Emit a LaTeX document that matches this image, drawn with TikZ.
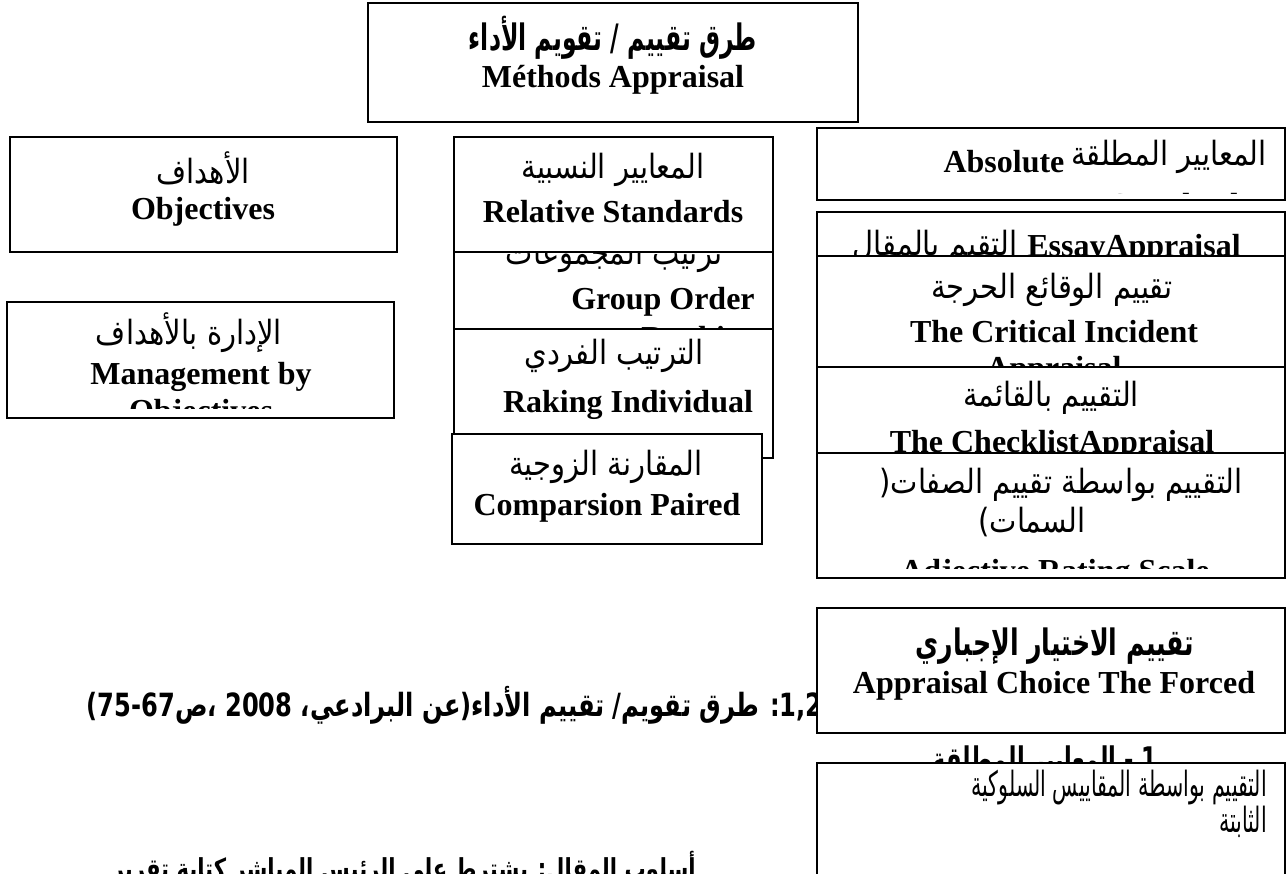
\documentclass[tikz,border=0pt]{standalone}
\usepackage{fontspec}
\setmainfont{Liberation Serif}
\newfontfamily\arf[Script=Arabic]{DejaVu Sans}
\TeXXeTstate=1
\newcommand\AR[1]{{\arf\beginR #1\endR}}
\newcommand\ARs[1]{\scalebox{1}[1.15]{\AR{#1}}}
\newcommand\LL[1]{\beginL #1\endL}
\begin{document}
\begin{tikzpicture}[x=1pt,y=-1pt,
  box/.style={draw=black, line width=1.5pt, fill=white},
  en/.style={inner sep=0pt, font=\fontsize{32}{36}\selectfont\bfseries},
  art/.style={inner sep=0pt, font=\fontsize{29}{33}\selectfont},
  artb/.style={inner sep=0pt, font=\fontsize{28}{32}\selectfont\bfseries}]
\useasboundingbox[fill=white] (0,0) rectangle (1287,873);
\clip (0,0) rectangle (1287,873);

% title box
\draw[box] (368,3) rectangle (858,122);
\node[artb] (tA) at (613,38) {\scalebox{0.84}[1.3]{\AR{طرق تقييم / تقويم الأداء}}};
\node[en] (tE) at (613,80) {Méthods Appraisal};

% objectives
\draw[box] (10,137) rectangle (397,252);
\node[art] (oA) at (203,168) {\ARs{الأهداف}};
\node[en] (oE) at (203,212) {Objectives};

% management by objectives
\draw[box] (7,302) rectangle (394,418);
\begin{scope}
\clip (8,303) rectangle (393,408);
\node[art] (mA) at (189,333) {\ARs{الإدارة بالأهداف}};
\node[en] (mE) at (201,377) {Management by};
\node[en] (mE2) at (201,414) {Objectives};
\end{scope}

% group order ranking (under relative standards)
\draw[box] (454,236) rectangle (773,345);
\begin{scope}
\clip (455,237) rectangle (772,344);
\node[art] (gA) at (614,256) {\ARs{ترتيب المجموعات}};
\node[en] (gE) at (663,302) {Group Order};
\node[en] (gE2) at (700,341) {Ranking};
\end{scope}

% relative standards
\draw[box] (454,137) rectangle (773,252);
\node[art] (rA) at (613,170) {\ARs{المعايير النسبية}};
\node[en] (rE) at (613,212) {Relative Standards};

% raking individual
\draw[box] (454,329) rectangle (773,458);
\node[art] (iA) at (614,356) {\ARs{الترتيب الفردي}};
\node[en] (iE) at (628,405) {Raking Individual};

% paired comparison
\draw[box] (452,434) rectangle (762,544);
\node[art] (pA) at (606,467) {\ARs{المقارنة الزوجية}};
\node[en] (pE) at (607,508) {Comparsion Paired};

% absolute standards
\draw[box] (817,128) rectangle (1285,200);
\begin{scope}
\clip (818,129) rectangle (1284,193);
\node[art] (aA) at (1169,157) {\ARs{المعايير المطلقة}};
\node[en] (aE) at (1004,162) {Absolute};
\node[en] (aE2) at (1181,205) {Standards};
\end{scope}

% essay
\draw[box] (817,212) rectangle (1285,290);
\node[art] (eA) at (935,247) {\ARs{التقيم بالمقال}};
\node[en] (eE) at (1134,249) {EssayAppraisal};

% critical incident
\draw[box] (817,256) rectangle (1285,367);
\begin{scope}
\clip (818,257) rectangle (1284,365);
\node[art] (cA) at (1052,290) {\ARs{تقييم الوقائع الحرجة}};
\node[en] (cE) at (1054,332) {The Critical Incident};
\node[en] (cE2) at (1054,371) {Appraisal};
\end{scope}

% checklist
\draw[box] (817,367) rectangle (1285,470);
\node[art] (kA) at (1051,398) {\ARs{التقييم بالقائمة}};
\node[en] (kE) at (1052,445) {The ChecklistAppraisal};

% adjective rating scale
\draw[box] (817,453) rectangle (1285,578);
\begin{scope}
\clip (818,454) rectangle (1284,568);
\node[art] (jA) at (1061,485) {\ARs{التقييم بواسطة تقييم الصفات(}};
\node[art] (jA2) at (1032,522) {\ARs{السمات)}};
\node[en] (jE) at (1055,574) {Adjective Rating Scale};
\end{scope}

% caption (partly under the forced choice box)
\node[artb, anchor=east] (cap) at (823,705) {\resizebox*{736pt}{38pt}{\AR{\LL{1,2}: طرق تقويم/ تقييم الأداء(عن البرادعي، \LL{2008} ،ص\LL{75-67})}}};

% forced choice
\draw[box] (817,608) rectangle (1285,733);
\node[artb] (fA) at (1055,646) {\scalebox{0.9}[1.3]{\AR{تقييم الاختيار الإجباري}}};
\node[en] (fE) at (1054,686) {Appraisal Choice The Forced};

% heading under the last box
\node[artb] (hA) at (1045,763) {\resizebox*{225pt}{34pt}{\AR{\LL{1} - المعايير المطلقة}}};

% behaviourally anchored scale box
\draw[box] (817,763) rectangle (1285,890);
\node[art, anchor=east] (bA) at (1267,788) {\scalebox{0.71}[1.2]{\AR{التقييم بواسطة المقاييس السلوكية}}};
\node[art, anchor=east] (bA2) at (1267,822) {\scalebox{0.71}[1.2]{\AR{الثابتة}}};

% text cut by the bottom edge
\node[artb, anchor=base east] (lA) at (696,878) {\resizebox*{584pt}{34pt}{\AR{أسلوب المقال: يشترط على الرئيس المباشر كتابة تقرير}}};
\end{tikzpicture}
\end{document}
